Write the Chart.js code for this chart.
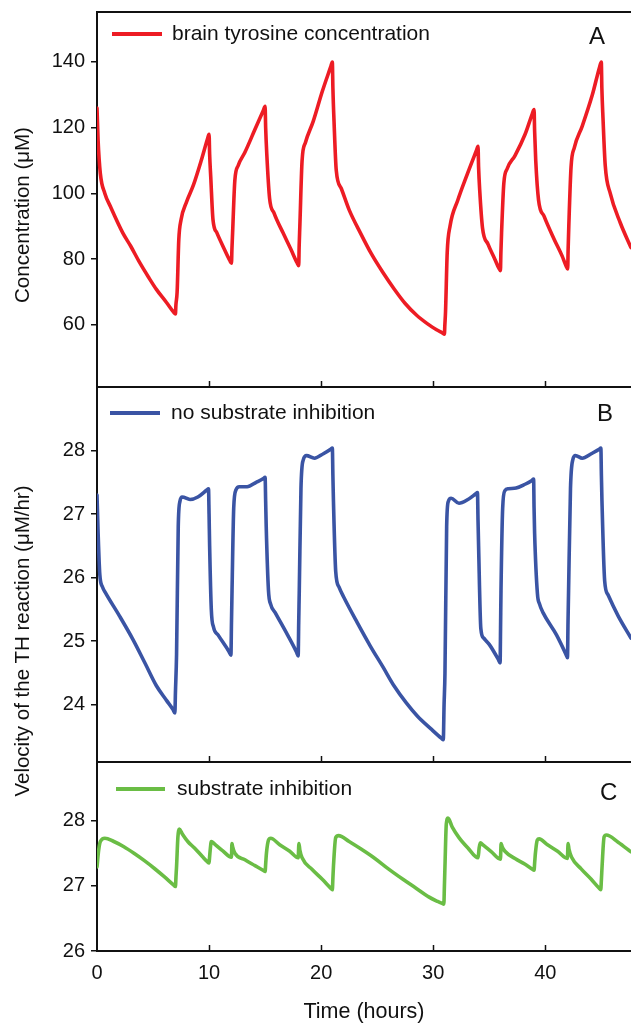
<!DOCTYPE html>
<html><head><meta charset="utf-8">
<script src="https://cdn.jsdelivr.net/npm/chart.js@4.4.1/dist/chart.umd.min.js"></script>
<style>
html,body{margin:0;padding:0;background:#fff;}
#wrap{position:relative;width:631px;height:1025px;overflow:hidden;font-family:'Liberation Sans',Arial,Helvetica,sans-serif;color:#111;}
.pane{position:absolute;left:0;width:631px;}
.ytitle{position:absolute;width:400px;height:24px;line-height:24px;text-align:center;font-size:20.5px;transform:rotate(-90deg);white-space:nowrap;}
</style></head><body>
<div id="wrap">
<div class="pane" style="top:0;height:388px"><canvas id="cA"></canvas></div>
<div class="pane" style="top:387px;height:376px"><canvas id="cB"></canvas></div>
<div class="pane" style="top:762px;height:263px"><canvas id="cC"></canvas></div>
<div class="ytitle" style="left:-178px;top:203px">Concentration (μM)</div>
<div class="ytitle" style="left:-178px;top:629px">Velocity of the TH reaction (μM/hr)</div>
</div>
<script>
// ---------- data ----------
const xTicks = [0, 10, 20, 30, 40];
const ticksA = [60, 80, 100, 120, 140];
const ticksB = [24, 25, 26, 27, 28];
const ticksC = [26, 27, 28];

const labelA = 'brain tyrosine concentration';
const labelB = 'no substrate inhibition';
const labelC = 'substrate inhibition';

const timeA = [0,0.1,0.3,0.7,1.2,2.3,3.0,3.8,4.6,5.3,6.2,6.85,7.0,7.04,7.15,7.3,7.5,8.0,8.6,9.3,9.85,10.0,10.05,10.15,10.35,10.7,11.3,11.85,12.0,12.04,12.1,12.3,12.6,13.2,14.1,14.85,15.0,15.05,15.15,15.4,15.8,16.6,17.3,17.85,18.0,18.04,18.1,18.3,18.6,19.3,20.1,20.85,21.0,21.05,21.15,21.35,21.8,22.5,23.5,24.5,25.5,26.5,27.5,28.5,29.5,30.3,30.85,31.0,31.04,31.1,31.25,31.5,32.2,33.0,33.85,34.0,34.05,34.15,34.4,34.9,35.5,35.85,36.0,36.04,36.1,36.3,36.6,37.3,38.2,38.85,39.0,39.05,39.15,39.4,39.9,40.8,41.5,41.85,42.0,42.04,42.1,42.3,42.6,43.3,44.2,44.85,45.0,45.05,45.15,45.35,45.8,46.7,47.65];
const tyrosine = [126,116,106,100,96,88,84,79,74.5,70.8,66.8,63.8,63.3,66,70,86,92,97.5,102.5,110,116.5,118,112,105,92,88,83.5,79.6,78.8,83,88,104,108.5,112.5,119.5,125.3,126.5,120,112,98.5,94,88,83,78.9,78,84,90,110,115.5,122,131,138.5,140,132,122,107,101.5,95,88,81.5,76,71,66.5,63,60.3,58.5,57.5,57.2,60,64,82,90,98,105.5,113,114.3,108,101,89.5,84.5,80,77.3,76.5,82,88,103,107.5,111.5,118,124.3,125.5,119,110,98,93,86,81,78,77,83,90,108,114,120.5,130,138.5,140,132,123,108.5,100,91,83.5];

const timeB = [0,0.1,0.25,0.5,0.8,2.0,3.2,4.3,5.3,6.2,6.8,6.95,7.0,7.1,7.25,7.4,7.6,8.3,9.0,9.8,9.95,10.0,10.05,10.2,10.4,10.8,11.8,11.95,12.0,12.05,12.2,12.4,12.7,13.4,14.2,14.85,15.0,15.05,15.1,15.3,15.5,15.9,17.0,17.8,17.95,18.0,18.05,18.2,18.4,18.7,19.4,20.2,20.85,21.0,21.05,21.1,21.3,21.6,22.0,23.2,24.4,25.5,26.5,27.6,28.6,29.8,30.75,30.9,30.97,31.05,31.2,31.35,31.6,32.3,33.1,33.8,33.95,34.0,34.05,34.25,34.5,35.0,35.82,35.97,36.01,36.05,36.2,36.4,36.7,37.4,38.2,38.81,38.96,39.0,39.05,39.3,39.5,39.8,41.0,41.83,41.98,42.03,42.08,42.25,42.45,42.7,43.3,44.1,44.81,44.96,45.01,45.06,45.3,45.6,46.5,47.65];
const velNoInhib = [27.3,26.7,26.05,25.85,25.75,25.4,25.03,24.65,24.3,24.07,23.92,23.87,24.2,24.8,26.8,27.2,27.27,27.23,27.27,27.38,27.4,27.0,26.5,25.5,25.22,25.1,24.83,24.78,25.3,25.8,27.1,27.38,27.43,27.43,27.5,27.56,27.58,27.2,26.8,25.8,25.58,25.45,25.1,24.83,24.77,25.3,25.8,27.4,27.85,27.92,27.88,27.95,28.02,28.04,27.6,27.2,26.1,25.85,25.7,25.3,24.92,24.6,24.3,24.03,23.82,23.62,23.47,23.45,24.0,24.5,26.8,27.2,27.25,27.17,27.23,27.32,27.34,26.9,26.5,25.2,25.05,24.95,24.71,24.66,25.2,25.8,27.1,27.37,27.4,27.41,27.47,27.53,27.55,27.1,26.7,25.75,25.58,25.45,25.1,24.8,24.74,25.3,25.8,27.4,27.85,27.92,27.88,27.95,28.02,28.04,27.6,27.2,25.95,25.73,25.4,25.05];

const timeC = [0,0.15,0.3,0.7,1.5,2.4,3.3,4.2,5.1,6.0,6.85,7.0,7.05,7.1,7.22,7.35,7.6,8.1,8.7,9.4,9.85,10.0,10.05,10.1,10.2,10.5,11.2,12.0,12.04,12.1,12.3,13.2,14.1,14.85,15.0,15.06,15.12,15.3,15.5,16.3,17.2,17.95,18.02,18.1,18.3,19.2,20.1,20.85,21.0,21.05,21.1,21.3,21.55,22.5,23.6,24.8,26.0,27.3,28.5,29.6,30.4,30.8,30.95,31.0,31.05,31.17,31.32,31.7,32.3,33.1,34.0,34.1,34.2,34.5,35.2,36.0,36.06,36.15,36.4,37.3,38.2,38.85,39.0,39.06,39.12,39.28,39.45,40.2,41.1,41.97,42.04,42.12,42.35,43.2,44.1,44.8,44.95,45.01,45.07,45.25,45.45,46.5,47.65];
const velInhib = [27.29,27.55,27.68,27.73,27.68,27.6,27.5,27.39,27.27,27.14,27.01,26.99,27.15,27.3,27.75,27.87,27.8,27.68,27.58,27.45,27.37,27.35,27.45,27.55,27.68,27.64,27.54,27.44,27.65,27.6,27.5,27.4,27.31,27.235,27.22,27.36,27.5,27.7,27.73,27.63,27.53,27.43,27.65,27.55,27.43,27.25,27.1,26.965,26.94,27.12,27.3,27.74,27.77,27.68,27.56,27.42,27.26,27.1,26.96,26.83,26.76,26.73,26.72,27.0,27.3,27.95,28.04,27.9,27.74,27.58,27.43,27.58,27.66,27.62,27.52,27.41,27.65,27.6,27.53,27.42,27.33,27.255,27.24,27.37,27.5,27.7,27.72,27.63,27.53,27.42,27.65,27.56,27.44,27.26,27.1,26.965,26.94,27.1,27.3,27.75,27.78,27.67,27.52];

// ---------- styling ----------
const FONT = "'Liberation Sans', Arial, Helvetica, sans-serif";
const INK = '#111';
Chart.defaults.font.family = FONT;
Chart.defaults.color = INK;

const panelDeco = {
  id: 'panelDeco',
  afterDatasetsDraw(chart, args, o) {
    const ctx = chart.ctx, a = chart.chartArea, x = chart.scales.x;
    ctx.save();
    ctx.strokeStyle = INK;
    ctx.lineWidth = 1.5;
    xTicks.forEach(v => {
      if (v === 0) return;
      const px = Math.round(x.getPixelForValue(v)) + 0.5;
      ctx.beginPath(); ctx.moveTo(px, a.bottom); ctx.lineTo(px, a.bottom - 6); ctx.stroke();
    });
    if (o.topBorder) {
      ctx.lineWidth = 2;
      ctx.beginPath(); ctx.moveTo(a.left - 1, a.top); ctx.lineTo(a.right, a.top); ctx.stroke();
    }
    const ds = chart.data.datasets[0];
    ctx.strokeStyle = ds.borderColor; ctx.lineWidth = 4; ctx.lineCap = 'butt';
    ctx.beginPath(); ctx.moveTo(o.lx0, o.ly); ctx.lineTo(o.lx1, o.ly); ctx.stroke();
    ctx.fillStyle = INK; ctx.textAlign = 'left'; ctx.textBaseline = 'middle';
    ctx.font = '21px ' + FONT;
    ctx.fillText(ds.label, o.tx, o.ly);
    ctx.font = '24px ' + FONT;
    ctx.fillText(o.letter, o.letterX, o.letterY);
    ctx.restore();
  }
};

function toPoints(t, v) { return t.map((tt, i) => ({ x: tt, y: v[i] })); }

function makePanel(id, cfg) {
  const isBottom = !!cfg.bottom;
  new Chart(document.getElementById(id), {
    type: 'line',
    data: { datasets: [{
      label: cfg.label,
      data: toPoints(cfg.t, cfg.v),
      borderColor: cfg.color,
      backgroundColor: cfg.color,
      borderWidth: 3.6,
      pointRadius: 0,
      cubicInterpolationMode: 'monotone',
      borderJoinStyle: 'round',
      borderCapStyle: 'round',
      fill: false
    }]},
    options: {
      responsive: true, maintainAspectRatio: false, animation: false,
      layout: { autoPadding: false, padding: { top: cfg.padTop, bottom: cfg.padBottom, left: 0, right: 0 } },
      plugins: { legend: { display: false }, tooltip: { enabled: false }, panelDeco: cfg.deco },
      scales: {
        x: {
          type: 'linear', min: 0, max: 47.65,
          afterBuildTicks: s => { s.ticks = xTicks.map(v => ({ value: v })); },
          afterFit: s => { if (isBottom) s.height = 74; s.paddingLeft = 0; s.paddingRight = 0; },
          grid: { drawOnChartArea: false, drawTicks: false },
          border: { display: true, color: INK, width: 2 },
          ticks: { display: isBottom, color: INK, padding: 10, maxRotation: 0, font: { size: 20 } },
          title: { display: isBottom, text: 'Time (hours)', color: INK, font: { size: 21.5 }, padding: { top: 0, bottom: 0 } }
        },
        y: {
          type: 'linear', min: cfg.min, max: cfg.max,
          afterBuildTicks: s => { s.ticks = cfg.ticks.map(v => ({ value: v })); },
          afterFit: s => { s.width = 97; s.paddingTop = 0; s.paddingBottom = 0; },
          grid: { drawOnChartArea: false, drawTicks: true, tickLength: 6, color: INK, lineWidth: 1.5 },
          border: { display: true, color: INK, width: 2 },
          ticks: { color: INK, padding: 6, font: { size: 20 } }
        }
      }
    },
    plugins: [panelDeco]
  });
}

makePanel('cA', { label: labelA, t: timeA, v: tyrosine, color: '#ED1C24', min: 41.1, max: 155.2, ticks: ticksA,
  padTop: 12, padBottom: 1,
  deco: { topBorder: true, lx0: 112, lx1: 162, ly: 34, tx: 172, letter: 'A', letterX: 589, letterY: 37 } });
makePanel('cB', { label: labelB, t: timeB, v: velNoInhib, color: '#3A54A4', min: 23.1, max: 29.0, ticks: ticksB,
  padTop: 0, padBottom: 1,
  deco: { topBorder: false, lx0: 110, lx1: 160, ly: 26, tx: 171, letter: 'B', letterX: 597, letterY: 27 } });
makePanel('cC', { label: labelC, t: timeC, v: velInhib, color: '#6ABD45', min: 26, max: 28.9, ticks: ticksC,
  padTop: 0, padBottom: 0, bottom: true,
  deco: { topBorder: false, lx0: 116, lx1: 165, ly: 27, tx: 177, letter: 'C', letterX: 600, letterY: 31 } });
</script>
</body></html>
